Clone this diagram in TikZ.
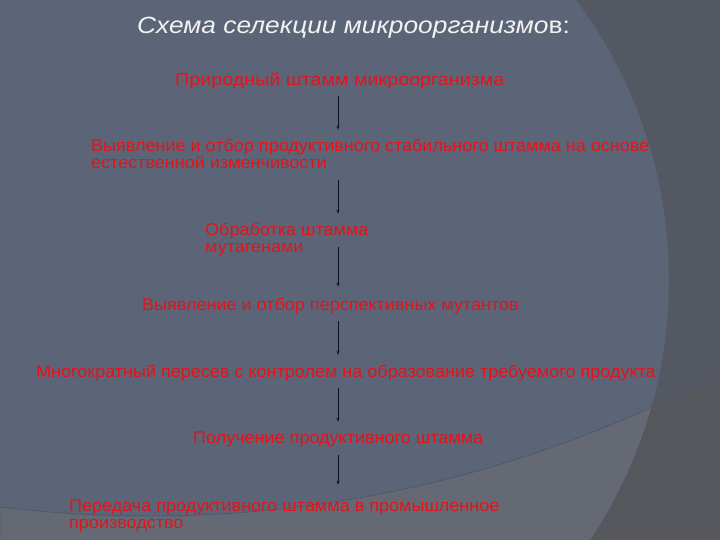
\documentclass[tikz,border=0pt]{standalone}
\usepackage{fontspec}
\setmainfont{Liberation Sans}
\usetikzlibrary{arrows.meta}
\definecolor{bgbase}{RGB}{92,101,119}
\definecolor{bgright}{RGB}{83,88,99}
\definecolor{bgbottom}{RGB}{101,105,116}
\definecolor{bgbr}{RGB}{85,87,93}
\definecolor{edgeline}{RGB}{78,88,108}
\definecolor{txtred}{RGB}{225,20,28}
\definecolor{titlecol}{RGB}{242,242,242}
\definecolor{arrowcol}{RGB}{15,15,30}
\newcommand{\sx}[1]{\scalebox{1.06}[1]{#1}}
\tikzset{
  lbl/.style={anchor=base west, inner sep=0pt, text=txtred, align=left,
    font=\fontsize{17}{17}\selectfont},
  ttl/.style={anchor=base west, inner sep=0pt, text=titlecol,
    font=\fontsize{23.5}{26}\selectfont\itshape},
  flow/.style={draw=arrowcol, line width=0.8pt, -{Stealth[length=4.5pt,width=2.8pt]}}
}
\begin{document}
\begin{tikzpicture}[x=1pt,y=-1pt]
\useasboundingbox (0,0) rectangle (720,540);
% background
\fill[bgbase] (0,0) rectangle (720,540);
\fill[bgbottom, even odd rule] (0,0) rectangle (720,540) (149,-695) circle (1211);
\fill[bgright, even odd rule] (0,0) rectangle (720,540) (200,280) circle (469);
\begin{scope}[even odd rule]
  \clip (0,0) rectangle (720,540) (200,280) circle (469);
  \fill[bgbr] (0,0) rectangle (720,540) (149,-695) circle (1211);
\end{scope}
\begin{scope}
  \clip (0,0) rectangle (720,540);
  \draw[edgeline, line width=0.8pt] (149,-695) circle (1211);
\end{scope}
% title
\node[ttl] (title) at (137,34) {\scalebox{1.12}[1]{Схема селекции микроорганизмо{\upshape в:}}};
% steps (two-line nodes are placed by the baseline of their last line)
\node[lbl] (s1) at (175,86) {\scalebox{1.16}[1]{Природный штамм микроорганизма}};
\node[lbl] (s2) at (91,169) {\sx{Выявление и отбор продуктивного стабильного штамма на основе}\\\sx{естественной изменчивости}};
\node[lbl] (s3) at (205,252) {\sx{Обработка штамма}\\\sx{мутагенами}};
\node[lbl] (s4) at (142,310) {\sx{Выявление и отбор перспективных мутантов}};
\node[lbl] (s5) at (36,377) {\sx{Многократный пересев с контролем на образование требуемого продукта}};
\node[lbl] (s6) at (193,443) {\sx{Получение продуктивного штамма}};
\node[lbl] (s7) at (69,528) {\sx{Передача продуктивного штамма в промышленное}\\\sx{производство}};
% arrows
\coordinate (a1s) at (338,96);  \coordinate (a1e) at (338,130);
\coordinate (a2s) at (338,180); \coordinate (a2e) at (338,214);
\coordinate (a3s) at (338,247); \coordinate (a3e) at (338,287);
\coordinate (a4s) at (338,321); \coordinate (a4e) at (338,355);
\coordinate (a5s) at (338,388); \coordinate (a5e) at (338,422);
\coordinate (a6s) at (338,455); \coordinate (a6e) at (338,485);
\draw[flow] (a1s) -- (a1e);
\draw[flow] (a2s) -- (a2e);
\draw[flow] (a3s) -- (a3e);
\draw[flow] (a4s) -- (a4e);
\draw[flow] (a5s) -- (a5e);
\draw[flow] (a6s) -- (a6e);
\end{tikzpicture}
\end{document}
